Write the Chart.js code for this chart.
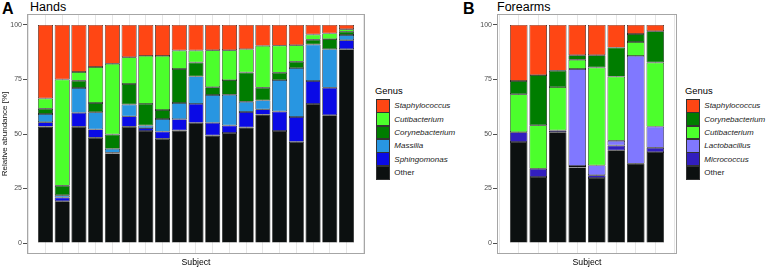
<!DOCTYPE html>
<html>
<head>
<meta charset="utf-8">
<script src="https://cdn.jsdelivr.net/npm/chart.js@4.4.1/dist/chart.umd.min.js"></script>
<style>
  body { margin: 0; background: #fff; font-family: "Liberation Sans", Arial, sans-serif; }
  #wrap { position: relative; width: 770px; height: 268px; overflow: hidden; }
  canvas { position: absolute; }
  .letter { position: absolute; font-weight: bold; font-size: 16px; top: 0px; line-height: 18px; }
  .ptitle { position: absolute; font-size: 12.5px; top: 0px; line-height: 14px; }
  .xlab { position: absolute; font-size: 8.7px; top: 257px; width: 200px; text-align: center; line-height: 11px; }
  .legend { position: absolute; top: 85px; }
  .legend .head { font-size: 9.4px; line-height: 11px; margin-bottom: 3px; margin-left: -1px; }
  .legend .row { height: 13.4px; display: flex; align-items: center; }
  .legend .key { width: 11.8px; height: 11.8px; border: 0.8px solid #333; box-sizing: content-box; margin-right: 4.5px; }
  .legend .lab { font-size: 8px; font-style: italic; color: #222; }
  .legend .lab.plain { font-style: normal; }
</style>
</head>
<body>
<div id="wrap">
  <div class="letter" style="left:2px">A</div>
  <div class="ptitle" style="left:30px">Hands</div>
  <div class="letter" style="left:463px">B</div>
  <div class="ptitle" style="left:497px">Forearms</div>
  <canvas id="hands" width="370" height="268" style="left:0;top:0;width:370px;height:268px"></canvas>
  <canvas id="forearms" width="212" height="268" style="left:470px;top:0;width:212px;height:268px"></canvas>
  <div class="xlab" style="left:96px">Subject</div>
  <div class="xlab" style="left:487px">Subject</div>
  <div class="legend" id="legA" style="left:376px"></div>
  <div class="legend" id="legB" style="left:686px"></div>
</div>
<script>
// Hands (panel A), 19 subjects, stacked bottom -> top
const handsSubjects = ["1","2","3","4","5","6","7","8","9","10","11","12","13","14","15","16","17","18","19"];
const handsOther    = [53.4,19.2,53.3,48.3,41.1,53.3,51.4,47.8,51.6,55.1,49.3,50.5,53.0,58.9,51.4,46.4,63.8,58.6,88.9];
const handsSphingo  = [2.0,1.7,6.4,3.8,0.3,4.8,1.3,3.3,5.2,8.7,5.8,3.4,7.1,2.4,8.9,11.4,10.5,12.6,4.1];
const handsMassilia = [3.8,1.0,11.4,7.9,1.8,5.4,1.2,5.8,7.4,12.6,12.8,14.1,4.7,4.1,14.4,22.4,16.7,17.7,2.4];
const handsCory     = [2.4,4.4,3.3,4.2,6.6,9.4,9.9,4.1,15.6,6.4,3.5,6.7,13.4,5.8,3.4,2.9,2.2,4.6,1.5];
const handsCuti     = [4.7,48.7,4.0,16.5,32.4,12.3,22.0,24.8,8.5,5.5,17.0,13.7,10.7,19.2,12.4,7.6,2.4,2.6,1.1];
const handsStaph    = [33.7,25.0,21.6,19.3,17.8,14.8,14.2,14.2,11.7,11.7,11.6,11.6,11.1,9.6,9.5,9.3,4.4,3.9,2.0];

// Forearms (panel B), 8 subjects
const forearmSubjects = ["1","2","3","4","5","6","7","8"];
const forOther = [46.3,30.3,50.8,34.7,29.8,42.5,36.4,41.7];
const forMicro = [4.5,3.8,0.8,0.6,1.3,2.2,0,2.0];
const forLacto = [0,0,0,44.5,4.5,2.2,49.4,9.7];
const forCuti  = [17.4,19.9,19.9,4.2,44.9,29.4,6.4,29.4];
const forCory  = [6.1,23.0,7.5,2.1,5.6,13.3,3.6,14.3];
const forStaph = [25.7,23.0,21.0,13.9,13.9,10.4,4.2,2.9];

const yTicks = [0, 25, 50, 75, 100];

const colors = {
  Staphylococcus: "#FF4614",
  Cutibacterium: "#4CFF2C",
  Corynebacterium: "#007D00",
  Massilia: "#2896E1",
  Sphingomonas: "#0A0AE6",
  Lactobacillus: "#8078FF",
  Micrococcus: "#321EBE",
  Other: "#0C1010"
};

const panelBorder = {
  id: "panelBorder",
  afterDraw(chart) {
    const a = chart.chartArea;
    const ctx = chart.ctx;
    ctx.save();
    ctx.strokeStyle = "#A6A6A6";
    ctx.lineWidth = 1;
    ctx.strokeRect(a.left + 0.5, a.top + 0.5, a.right - a.left - 1, a.bottom - a.top - 1);
    ctx.restore();
  }
};

function makeChart(id, subjects, series, yTitle) {
  const n = subjects.length;
  const datasets = series.map(s => ({
    label: s.name,
    data: s.values.map((v, i) => ({ x: i, y: v })),
    backgroundColor: colors[s.name],
    borderColor: "#111",
    borderWidth: 0.7,
    borderSkipped: false,
    barPercentage: 0.9,
    categoryPercentage: 1.0
  }));
  return new Chart(document.getElementById(id), {
    type: "bar",
    data: { datasets },
    options: {
      responsive: false,
      animation: false,
      layout: { padding: { top: 14, right: 5, bottom: 14, left: 0 } },
      plugins: { legend: { display: false }, tooltip: { enabled: false } },
      scales: {
        x: {
          type: "linear",
          stacked: true,
          min: -0.6,
          max: n - 0.4,
          // grid lines between subjects
          afterBuildTicks: s => {
            const t = [];
            for (let k = 0; k <= n; k++) t.push({ value: k - 0.5 });
            s.ticks = t;
          },
          afterFit: s => { s.height = 0; },
          ticks: { display: false },
          grid: { color: "#E0E0E0", lineWidth: 0.8, drawTicks: false },
          border: { display: false }
        },
        y: {
          stacked: true,
          min: -5,
          max: 105,
          afterBuildTicks: s => { s.ticks = yTicks.map(v => ({ value: v })); },
          afterFit: s => { s.width = 27; },
          ticks: { color: "#4D4D4D", font: { size: 7, family: "Liberation Sans" }, padding: 1 },
          grid: { drawOnChartArea: false, drawTicks: true, tickLength: 4, color: "#4D4D4D" },
          border: { display: false },
          title: {
            display: !!yTitle,
            text: yTitle || "",
            color: "#111",
            font: { size: 8, family: "Liberation Sans" },
            padding: { top: 0, bottom: 0 }
          }
        }
      }
    },
    plugins: [panelBorder]
  });
}

makeChart("hands", handsSubjects, [
  { name: "Other", values: handsOther },
  { name: "Sphingomonas", values: handsSphingo },
  { name: "Massilia", values: handsMassilia },
  { name: "Corynebacterium", values: handsCory },
  { name: "Cutibacterium", values: handsCuti },
  { name: "Staphylococcus", values: handsStaph }
], "Relative abundance [%]");

makeChart("forearms", forearmSubjects, [
  { name: "Other", values: forOther },
  { name: "Micrococcus", values: forMicro },
  { name: "Lactobacillus", values: forLacto },
  { name: "Cutibacterium", values: forCuti },
  { name: "Corynebacterium", values: forCory },
  { name: "Staphylococcus", values: forStaph }
], null);

function buildLegend(id, names) {
  const el = document.getElementById(id);
  let html = '<div class="head">Genus</div>';
  names.forEach(nm => {
    html += '<div class="row"><div class="key" style="background:' + colors[nm] + '"></div>' +
      '<span class="lab' + (nm === "Other" ? " plain" : "") + '">' + nm + '</span></div>';
  });
  el.innerHTML = html;
}
buildLegend("legA", ["Staphylococcus", "Cutibacterium", "Corynebacterium", "Massilia", "Sphingomonas", "Other"]);
buildLegend("legB", ["Staphylococcus", "Corynebacterium", "Cutibacterium", "Lactobacillus", "Micrococcus", "Other"]);
</script>
</body>
</html>
